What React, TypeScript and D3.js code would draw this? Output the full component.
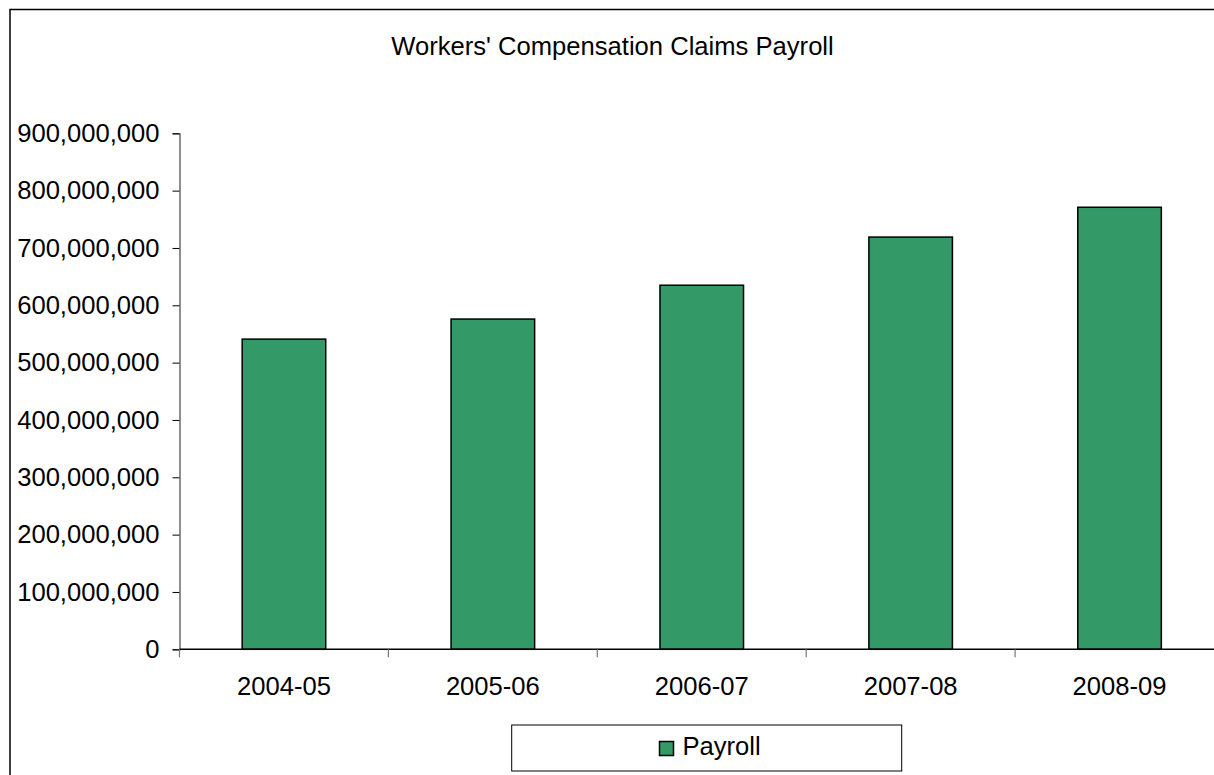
import React, { useEffect, useRef } from 'react';
import * as d3 from 'd3';

// Chart data
const seasons = ['2004-05', '2005-06', '2006-07', '2007-08', '2008-09'];
const payroll = [541000000, 576000000, 635000000, 719000000, 771000000];
const yTicks = [0, 100000000, 200000000, 300000000, 400000000, 500000000, 600000000, 700000000, 800000000, 900000000];

const FONT = "'Liberation Sans', Arial, sans-serif";
const FS = 25.6;

const App = () => {
  const ref = useRef<SVGSVGElement | null>(null);

  useEffect(() => {
    const svg = d3.select(ref.current);
    svg.selectAll('*').remove();

    const width = 1214;
    const height = 775;

    // outer chart border (runs off the right/bottom edge like the original)
    svg
      .append('rect')
      .attr('x', 10)
      .attr('y', 9.5)
      .attr('width', 1240)
      .attr('height', 800)
      .attr('fill', '#fff')
      .attr('stroke', '#000')
      .attr('stroke-width', 1.5);

    // title
    svg
      .append('text')
      .attr('x', 612.5)
      .attr('y', 55)
      .attr('text-anchor', 'middle')
      .attr('font-family', FONT)
      .attr('font-size', FS)
      .attr('fill', '#000')
      .text("Workers' Compensation Claims Payroll");

    const left = 179.5;
    const right = 1224;
    const top = 133.3;
    const bottom = 649.3;

    const x = d3
      .scaleBand()
      .domain(seasons)
      .range([left, right])
      .paddingInner(0.6)
      .paddingOuter(0.3);

    const y = d3.scaleLinear().domain([0, 900000000]).range([bottom, top]);

    // bars
    svg
      .append('g')
      .selectAll('rect')
      .data(payroll)
      .join('rect')
      .attr('x', (_d, i) => x(seasons[i]) as number)
      .attr('y', (d) => y(d))
      .attr('width', x.bandwidth())
      .attr('height', (d) => bottom - y(d))
      .attr('fill', '#339966')
      .attr('stroke', '#000')
      .attr('stroke-width', 1.5);

    // y axis
    const yAxis = svg
      .append('g')
      .attr('transform', `translate(${left},0)`)
      .call(
        d3
          .axisLeft(y)
          .tickValues(yTicks)
          .tickSize(7)
          .tickPadding(13)
          .tickFormat((d) => d3.format(',')(d as number))
      );
    yAxis.select('.domain').attr('stroke', '#444').attr('stroke-width', 1.2);
    yAxis.selectAll('.tick line').attr('stroke', '#000');
    yAxis
      .selectAll('.tick text')
      .attr('font-family', FONT)
      .attr('font-size', FS)
      .attr('fill', '#000');

    // x axis: boundaries between categories carry the tick marks
    const step = x.step();
    const boundaries = d3.range(seasons.length + 1).map((i) => left + i * step);
    const xAxis = svg.append('g');
    xAxis
      .append('line')
      .attr('x1', left)
      .attr('x2', width + 20)
      .attr('y1', bottom)
      .attr('y2', bottom)
      .attr('stroke', '#000')
      .attr('stroke-width', 1.5);
    xAxis
      .selectAll('line.tk')
      .data(boundaries)
      .join('line')
      .attr('class', 'tk')
      .attr('x1', (d) => d)
      .attr('x2', (d) => d)
      .attr('y1', bottom)
      .attr('y2', bottom + 8)
      .attr('stroke', '#777')
      .attr('stroke-width', 1.2);
    xAxis
      .selectAll('text')
      .data(seasons)
      .join('text')
      .attr('x', (d) => (x(d) as number) + x.bandwidth() / 2)
      .attr('y', 695)
      .attr('text-anchor', 'middle')
      .attr('font-family', FONT)
      .attr('font-size', FS)
      .attr('fill', '#000')
      .text((d) => d);

    // legend
    const legend = svg.append('g');
    legend
      .append('rect')
      .attr('x', 511.7)
      .attr('y', 725)
      .attr('width', 390)
      .attr('height', 46)
      .attr('fill', '#fff')
      .attr('stroke', '#000')
      .attr('stroke-width', 1);
    legend
      .append('rect')
      .attr('x', 659.5)
      .attr('y', 741.5)
      .attr('width', 14)
      .attr('height', 14)
      .attr('fill', '#339966')
      .attr('stroke', '#000')
      .attr('stroke-width', 1.5);
    legend
      .append('text')
      .attr('x', 682.5)
      .attr('y', 755)
      .attr('font-family', FONT)
      .attr('font-size', FS)
      .attr('fill', '#000')
      .text('Payroll');

    svg.attr('width', width).attr('height', height);
  }, []);

  return (
    <svg
      ref={ref}
      width={1214}
      height={775}
      style={{ position: 'absolute', left: 0, top: 0, background: '#fff' }}
    />
  );
};

export default App;
